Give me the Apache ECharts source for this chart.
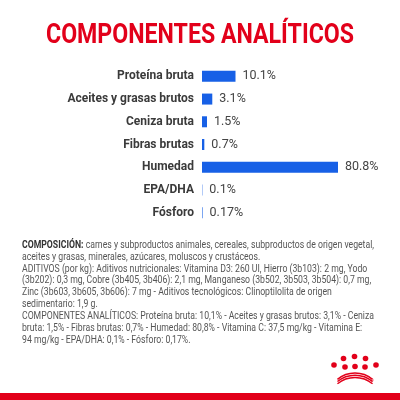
<!DOCTYPE html>
<html>
<head>
<meta charset="utf-8">
<script src="https://cdn.jsdelivr.net/npm/echarts@6/dist/echarts.min.js"></script>
<style>
html,body{margin:0;padding:0;background:#fff;}
#c{width:400px;height:400px;}
</style>
</head>
<body>
<div id="c"></div>
<script>
var categories = ['Proteína bruta', 'Aceites y grasas brutos', 'Ceniza bruta', 'Fibras brutas', 'Humedad', 'EPA/DHA', 'Fósforo'];
var values = [10.1, 3.1, 1.5, 0.7, 80.8, 0.1, 0.17];
var valueLabels = ['10.1%', '3.1%', '1.5%', '0.7%', '80.8%', '0.1%', '0.17%'];
var titleText = 'COMPONENTES ANALÍTICOS';
var paragraphLines = [
  ['COMPOSICIÓN:', ' carnes y subproductos animales, cereales, subproductos de origen vegetal,'],
  ['', 'aceites y grasas, minerales, azúcares, moluscos y crustáceos.'],
  ['', 'ADITIVOS (por kg): Aditivos nutricionales: Vitamina D3: 260 UI, Hierro (3b103): 2 mg, Yodo'],
  ['', '(3b202): 0,3 mg, Cobre (3b405, 3b406): 2,1 mg, Manganeso (3b502, 3b503, 3b504): 0,7 mg,'],
  ['', 'Zinc (3b603, 3b605, 3b606): 7 mg - Aditivos tecnológicos: Clinoptilolita de origen'],
  ['', 'sedimentario: 1,9 g.'],
  ['', 'COMPONENTES ANALÍTICOS: Proteína bruta: 10,1% - Aceites y grasas brutos: 3,1% - Ceniza'],
  ['', 'bruta: 1,5% - Fibras brutas: 0,7% - Humedad: 80,8% - Vitamina C: 37,5 mg/kg - Vitamina E:'],
  ['', '94 mg/kg - EPA/DHA: 0,1% - Fósforo: 0,17%.']
];

var FONT = "Roboto, sans-serif";
var RED = '#E2001A';
var BLUE = '#1760e6';

var cv = document.createElement('canvas').getContext('2d');
function textW(str, font) { cv.font = font; return cv.measureText(str).width; }

var chart = echarts.init(document.getElementById('c'), null, {renderer: 'canvas'});

var graphics = [];
// title, horizontally condensed to the reference width
var titleScale = 308 / textW(titleText, 'bold 27px Roboto');
graphics.push({
  type: 'text', x: 200, y: 36, scaleX: titleScale, silent: true,
  style: {text: titleText, fontFamily: FONT, fontSize: 27, fontWeight: 'bold', fill: RED,
    textAlign: 'center', textVerticalAlign: 'middle'}
});
// paragraph, condensed to fit the first line width
var pScale = 352 / (textW(paragraphLines[0][0], 'bold 10.5px Roboto') + textW(paragraphLines[0][1], '10.5px Roboto'));
paragraphLines.forEach(function (ln, i) {
  var txt = ln[0] ? '{b|' + ln[0] + '}{n|' + ln[1] + '}' : '{n|' + ln[1] + '}';
  graphics.push({
    type: 'text', x: 22, y: 245 + i * 11.95, scaleX: pScale, silent: true,
    style: {
      text: txt, fontFamily: FONT, fontSize: 10.5, fill: '#555', textVerticalAlign: 'middle',
      rich: {
        b: {fontFamily: FONT, fontSize: 10.5, fontWeight: 'bold', fill: '#333'},
        n: {fontFamily: FONT, fontSize: 10.5, fill: '#555'}
      }
    }
  });
});
// bottom red band
graphics.push({type: 'rect', left: 0, top: 393, shape: {width: 400, height: 7}, style: {fill: RED}, silent: true});
// crown logo
var dots = [[343.5, 358.5], [354.5, 356.5], [365.5, 358.5], [334, 365], [345, 367], [355, 366.5], [365, 367], [376, 365]];
dots.forEach(function (d) {
  graphics.push({type: 'circle', shape: {cx: d[0], cy: d[1], r: 2.8}, style: {fill: RED}, silent: true});
});
[0, 2.2, 4.4].forEach(function (o) {
  graphics.push({type: 'arc', shape: {cx: 355, cy: 400.5 + o, r: 27.5, startAngle: Math.PI * 1.28, endAngle: Math.PI * 1.72},
    style: {stroke: RED, lineWidth: 1.5, fill: null}, silent: true});
});
graphics.push({type: 'text', x: 372, y: 381, silent: true,
  style: {text: '®', fontFamily: FONT, fontSize: 4, fill: RED, textAlign: 'center', textVerticalAlign: 'middle'}});

chart.setOption({
  backgroundColor: '#fff',
  animation: false,
  grid: {left: 202, right: 62, top: 65, height: 159, containLabel: false},
  xAxis: {type: 'value', min: 0, max: 41, show: false},
  yAxis: {
    type: 'category', data: categories, inverse: true,
    axisLine: {show: false}, axisTick: {show: false}, splitLine: {show: false},
    axisLabel: {fontFamily: FONT, fontSize: 12, fontWeight: 'bold', color: '#3a3a3a', margin: 8}
  },
  series: [{
    type: 'bar', data: values, barWidth: 11, clip: true,
    itemStyle: {color: BLUE},
    label: {
      show: true, position: 'right', distance: 7,
      fontFamily: FONT, fontSize: 12.5, color: '#444',
      formatter: function (p) { return valueLabels[p.dataIndex]; }
    }
  }],
  graphic: graphics
});
</script>
</body>
</html>
